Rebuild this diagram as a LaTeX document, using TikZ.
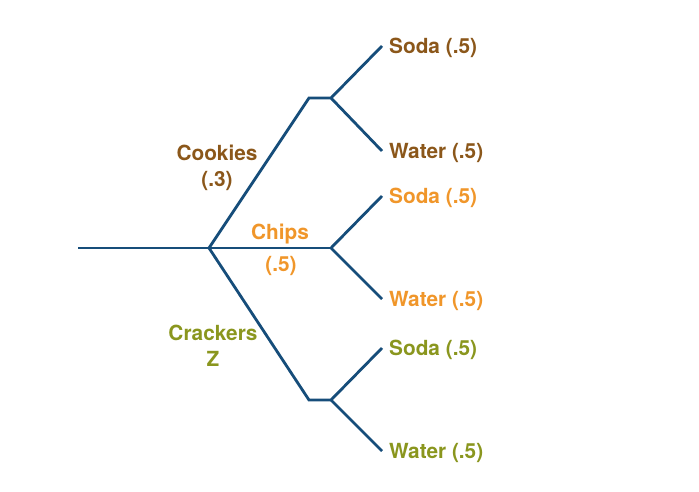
\documentclass[tikz,border=0pt]{standalone}
\usepackage{fontspec}
\setmainfont{TeX Gyre Heros}
\usetikzlibrary{positioning}
\definecolor{branch}{RGB}{22,77,122}
\definecolor{cookie}{RGB}{139,87,26}
\definecolor{chip}{RGB}{240,150,42}
\definecolor{cracker}{RGB}{138,150,30}

\begin{document}
\begin{tikzpicture}[x=1pt, y=-1pt,
  font=\fontsize{20.8}{26}\selectfont\bfseries,
  edge/.style={draw=branch, line width=2.8pt},
  leaf/.style={anchor=west, inner sep=0pt, xshift=7pt, yshift=-2pt},
  lbl/.style={align=center, inner sep=0pt}]
\useasboundingbox (0,0) rectangle (699,492);
% branch points
\coordinate (start) at (78,248);
\coordinate (root) at (209,248);
\coordinate (ck) at (309,98);
\coordinate (ckj) at (331,98);
\coordinate (chj) at (331,248);
\coordinate (cr) at (309,400);
\coordinate (crj) at (331,400);
% leaf ends
\coordinate (ck1) at (382,46);
\coordinate (ck2) at (382,151);
\coordinate (ch1) at (382,196);
\coordinate (ch2) at (382,299);
\coordinate (cr1) at (382,348);
\coordinate (cr2) at (382,451);
% edges
\draw[edge] (start) -- (root);
\draw[edge] (root) -- (ck) -- (ckj);
\draw[edge] (root) -- (chj);
\draw[edge] (root) -- (cr) -- (crj);
\draw[edge] (ck1) -- (ckj) -- (ck2);
\draw[edge] (ch1) -- (chj) -- (ch2);
\draw[edge] (cr1) -- (crj) -- (cr2);
% first level labels
\node[lbl, text=cookie] (cookies) at (217,168) {Cookies\\(.3)};
\node[lbl, text=chip] (chips) at (280,234) {Chips};
\node[lbl, text=chip] (chipsp) at (281,266) {(.5)};
\node[lbl, text=cracker] (crackers) at (213,346) {Crackers\\Z};
% leaf labels
\node[leaf, text=cookie] (s1) at (ck1) {Soda (.5)};
\node[leaf, text=cookie] (w1) at (ck2) {Water (.5)};
\node[leaf, text=chip] (s2) at (ch1) {Soda (.5)};
\node[leaf, text=chip] (w2) at (ch2) {Water (.5)};
\node[leaf, text=cracker] (s3) at (cr1) {Soda (.5)};
\node[leaf, text=cracker] (w3) at (cr2) {Water (.5)};
\end{tikzpicture}
\end{document}
